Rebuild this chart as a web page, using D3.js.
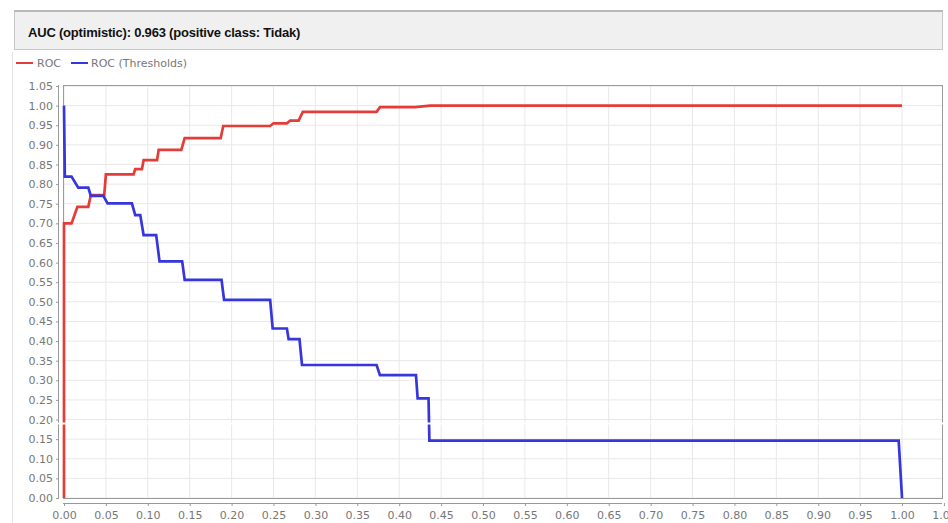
<!DOCTYPE html>
<html>
<head>
<meta charset="utf-8">
<script src="https://cdn.jsdelivr.net/npm/d3@7"></script>
<style>
  body { margin: 0; background: white; }
  svg { display: block; }
</style>
</head>
<body>
<script>
// ROC curve points (false positive rate, true positive rate)
const rocX = [0, 0, 0.009, 0.016, 0.029, 0.032, 0.048, 0.050, 0.083, 0.085, 0.093, 0.095, 0.111, 0.113,
  0.140, 0.144, 0.187, 0.190, 0.246, 0.250, 0.266, 0.270, 0.280, 0.285, 0.373, 0.377, 0.419, 0.437, 1.0]
const rocY = [0, 0.70, 0.70, 0.742, 0.742, 0.772, 0.772, 0.825, 0.825, 0.838, 0.838, 0.861, 0.861, 0.887,
  0.887, 0.917, 0.917, 0.948, 0.948, 0.955, 0.955, 0.962, 0.962, 0.984, 0.984, 0.996, 0.996, 1.0, 1.0]

// ROC (Thresholds) points
const thrX = [0, 0.001, 0.009, 0.017, 0.029, 0.032, 0.047, 0.052, 0.081, 0.085, 0.091, 0.095, 0.110, 0.114,
  0.141, 0.144, 0.188, 0.191, 0.246, 0.249, 0.266, 0.268, 0.281, 0.284, 0.373, 0.377, 0.420, 0.422,
  0.435, 0.436, 0.996, 1.0]
const thrY = [1.0, 0.819, 0.819, 0.791, 0.791, 0.770, 0.770, 0.751, 0.751, 0.721, 0.721, 0.670, 0.670, 0.603,
  0.603, 0.556, 0.556, 0.505, 0.505, 0.432, 0.432, 0.405, 0.405, 0.339, 0.339, 0.313, 0.313, 0.254,
  0.254, 0.146, 0.146, 0]

const ticks = d3.range(0, 21 + 1).map(i => i * 0.05)
const seriesNames = ['ROC', 'ROC (Thresholds)']
const seriesColors = ['#e43c38', '#3636dc']
const title = 'AUC (optimistic): 0.963 (positive class: Tidak)'

const width = 948
const height = 523
const plot = { left: 63, right: 942, top: 85, bottom: 498 }

const svg = d3.select('body')
  .append('svg')
  .attr('width', width)
  .attr('height', height)
  .style('font-family', 'DejaVu Sans, sans-serif')

// outer panel line + header box
svg.append('line')
  .attr('x1', 12.5).attr('x2', 12.5).attr('y1', 52).attr('y2', height)
  .attr('stroke', '#e2e2e2')

svg.append('rect')
  .attr('x', 14.5).attr('y', 10.5)
  .attr('width', 928).attr('height', 39)
  .attr('fill', '#f0f0f0')
  .attr('stroke', '#c8c8c8')

svg.append('line')
  .attr('x1', 14).attr('x2', 943).attr('y1', 11).attr('y2', 11)
  .attr('stroke', '#b8b8b8').attr('stroke-width', 2)

svg.append('text')
  .text(title)
  .attr('x', 28).attr('y', 37)
  .style('font-family', 'Liberation Sans, Arial, sans-serif')
  .style('font-weight', 'bold')
  .style('font-size', '13px')
  .style('letter-spacing', '-0.2px')
  .attr('fill', '#111')

// legend
const legend = svg.append('g').attr('transform', 'translate(0,63)')
const legendPos = [{ x: 16, w: 17, tx: 37 }, { x: 71, w: 17, tx: 91 }]
seriesNames.forEach((name, i) => {
  legend.append('line')
    .attr('x1', legendPos[i].x).attr('x2', legendPos[i].x + legendPos[i].w)
    .attr('y1', 0).attr('y2', 0)
    .attr('stroke', seriesColors[i]).attr('stroke-width', 2)
  legend.append('text')
    .text(name)
    .attr('x', legendPos[i].tx).attr('y', 4)
    .style('font-size', '11px')
    .attr('fill', '#777')
})

const xScale = d3.scaleLinear()
  .domain([0, 1.0477])
  .range([plot.left + 1, plot.right])

const yScale = d3.scaleLinear()
  .domain([0, 1.05])
  .range([plot.bottom, plot.top + 1])

// grid
const grid = svg.append('g')
grid.selectAll('.vg')
  .data(ticks.filter(t => xScale(t) < plot.right))
  .enter()
  .append('line')
  .attr('x1', d => xScale(d)).attr('x2', d => xScale(d))
  .attr('y1', plot.top).attr('y2', plot.bottom)
  .attr('stroke', '#e8e8e8')
grid.selectAll('.hg')
  .data(ticks)
  .enter()
  .append('line')
  .attr('x1', plot.left).attr('x2', plot.right)
  .attr('y1', d => yScale(d)).attr('y2', d => yScale(d))
  .attr('stroke', '#e8e8e8')

svg.append('rect')
  .attr('x', plot.left + 0.5).attr('y', plot.top + 0.5)
  .attr('width', plot.right - plot.left).attr('height', plot.bottom - plot.top)
  .attr('fill', 'none')
  .attr('stroke', '#9a9a9a')

// axes
const xAxis = d3.axisBottom(xScale)
  .tickValues(ticks)
  .tickFormat(d3.format('.2f'))
  .tickSize(3)
  .tickSizeOuter(0)

const yAxis = d3.axisLeft(yScale)
  .tickValues(ticks)
  .tickFormat(d3.format('.2f'))
  .tickSize(3)
  .tickSizeOuter(0)

const gx = svg.append('g')
  .attr('transform', `translate(0,${plot.bottom + 5})`)
  .call(xAxis)
gx.select('.domain').attr('d', `M${plot.left},0.5H${plot.right}`)

const gy = svg.append('g')
  .attr('transform', `translate(${plot.left - 4},0)`)
  .call(yAxis)
gy.select('.domain').attr('d', `M-0.5,${plot.top}V${plot.bottom}`)

svg.selectAll('.domain').attr('stroke', '#999')
svg.selectAll('.tick line').attr('stroke', '#999')
svg.selectAll('.tick text')
  .attr('fill', '#777')
  .style('font-size', '11px')
  .style('font-family', 'DejaVu Sans, sans-serif')
gx.selectAll('.tick text').attr('dy', '0.95em')
gy.selectAll('.tick text').attr('x', -6)

// series
const line = d3.line()
  .x(d => xScale(d[0]))
  .y(d => yScale(d[1]))

const rocData = rocX.map((x, i) => [x, rocY[i]])
const thrData = thrX.map((x, i) => [x, thrY[i]])

svg.append('path')
  .datum(rocData)
  .attr('d', line)
  .attr('fill', 'none')
  .attr('stroke', seriesColors[0])
  .attr('stroke-width', 2.7)

svg.append('path')
  .datum(thrData)
  .attr('d', line)
  .attr('fill', 'none')
  .attr('stroke', seriesColors[1])
  .attr('stroke-width', 2.7)

// the screenshot has a thin stitched seam here
svg.append('rect')
  .attr('x', 50).attr('y', 422.5)
  .attr('width', width - 50).attr('height', 2)
  .attr('fill', 'white')
</script>
</body>
</html>
